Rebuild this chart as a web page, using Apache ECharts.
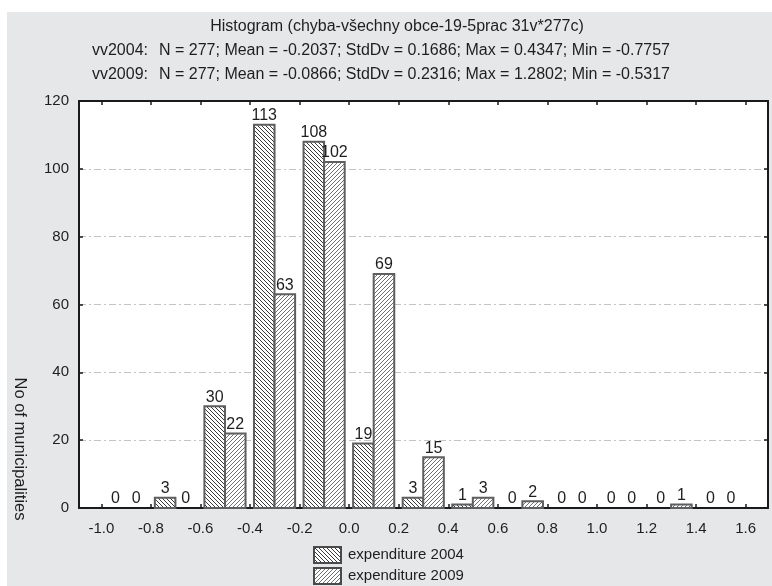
<!DOCTYPE html>
<html>
<head>
<meta charset="utf-8">
<script src="https://cdn.jsdelivr.net/npm/echarts@6/dist/echarts.min.js"></script>
<style>
  html, body { margin: 0; padding: 0; background: #ffffff; }
  #panel { position: absolute; left: 7px; top: 12px; width: 765px; height: 574px; background: #e6e7e9; }
  #chart { position: absolute; left: 0; top: 0; width: 772px; height: 586px; }
</style>
</head>
<body>
<div id="panel"></div>
<div id="chart"></div>
<script>
// Histogram bins (left edge of each 0.2-wide class)
const binStarts = [-1.0, -0.8, -0.6, -0.4, -0.2, 0.0, 0.2, 0.4, 0.6, 0.8, 1.0, 1.2, 1.4];
const binWidth = 0.2;
// Counts per class
const counts2004 = [0, 3, 30, 113, 108, 19, 3, 1, 0, 0, 0, 0, 0];
const counts2009 = [0, 0, 22, 63, 102, 69, 15, 3, 2, 0, 0, 1, 0];
const seriesNames = ['expenditure 2004', 'expenditure 2009'];
// Axis ticks
const xTicks = [-1.0, -0.8, -0.6, -0.4, -0.2, 0.0, 0.2, 0.4, 0.6, 0.8, 1.0, 1.2, 1.4, 1.6];
const yTicks = [0, 20, 40, 60, 80, 100, 120];
const titleLines = [
  'Histogram (chyba-všechny obce-19-5prac 31v*277c)',
  ['vv2004:', 'N = 277; Mean = -0.2037; StdDv = 0.1686; Max = 0.4347; Min = -0.7757'],
  ['vv2009:', 'N = 277; Mean = -0.0866; StdDv = 0.2316; Max = 1.2802; Min = -0.5317']
];

const FONT = 'Liberation Sans, Arial, sans-serif';
const TEXT = '#1e1e1e';

// Diagonal hatch tiles used as bar fills
function hatch(dir, size, color, lw) {
  const c = document.createElement('canvas');
  c.width = size; c.height = size;
  const ctx = c.getContext('2d');
  ctx.fillStyle = '#ffffff';
  ctx.fillRect(0, 0, size, size);
  ctx.strokeStyle = color;
  ctx.lineWidth = lw;
  ctx.beginPath();
  if (dir === 'back') {
    ctx.moveTo(0, 0); ctx.lineTo(size, size);
    ctx.moveTo(-1, size - 1); ctx.lineTo(1, size + 1);
    ctx.moveTo(size - 1, -1); ctx.lineTo(size + 1, 1);
  } else {
    ctx.moveTo(0, size); ctx.lineTo(size, 0);
    ctx.moveTo(-1, 1); ctx.lineTo(1, -1);
    ctx.moveTo(size - 1, size + 1); ctx.lineTo(size + 1, size - 1);
  }
  ctx.stroke();
  return { image: c, repeat: 'repeat' };
}
const fill2004 = hatch('back', 4, '#3a3a3a', 1);
const fill2009 = hatch('fwd', 4, '#707070', 1);
const fills = [fill2004, fill2009];

// Position of each bar inside its class, as a share of the class width
const barLayout = [
  { offset: 0.08, width: 0.415 },
  { offset: 0.495, width: 0.415 }
];

function makeRenderer(idx) {
  return function (params, api) {
    const x0 = api.value(0);
    const v = api.value(1);
    const lay = barLayout[idx];
    const a = x0 + lay.offset * binWidth;
    const b = a + lay.width * binWidth;
    const p1 = api.coord([a, v]);
    const p2 = api.coord([b, 0]);
    const children = [];
    if (v > 0) {
      children.push({
        type: 'rect',
        shape: { x: p1[0], y: p1[1], width: p2[0] - p1[0], height: p2[1] - p1[1] },
        style: { fill: fills[idx], stroke: '#5e5e5e', lineWidth: 2 }
      });
    }
    children.push({
      type: 'text',
      x: (p1[0] + p2[0]) / 2,
      y: p1[1] - 1,
      style: {
        text: String(v), font: '16px ' + FONT, fill: TEXT,
        align: 'center', verticalAlign: 'bottom'
      },
      z2: 10
    });
    return { type: 'group', children: children };
  };
}

const data2004 = binStarts.map((s, i) => [s, counts2004[i]]);
const data2009 = binStarts.map((s, i) => [s, counts2009[i]]);

const chart = echarts.init(document.getElementById('chart'), null, { renderer: 'canvas' });

const xMin = -1.09, xMax = 1.69;
const tickStyle = { show: true, inside: true, length: 4, lineStyle: { color: '#1a1a1a', width: 1.5 } };

function legendFor(idx, top) {
  return {
    left: 313, top: top, padding: 0,
    itemWidth: 27, itemHeight: 16,
    icon: 'rect',
    textStyle: { fontSize: 15, fontFamily: FONT, color: TEXT, padding: [0, 0, 0, 2] },
    data: [{
      name: seriesNames[idx],
      itemStyle: { color: fills[idx], borderColor: '#4a4a4a', borderWidth: 2 }
    }]
  };
}

const option = {
  backgroundColor: 'transparent',
  animation: false,
  grid: { left: 79, right: 4, top: 101, bottom: 78, show: true, backgroundColor: '#ffffff', borderWidth: 0 },
  xAxis: [
    {
      type: 'value', min: xMin, max: xMax, position: 'bottom',
      axisLine: { show: true, onZero: false, lineStyle: { color: '#1a1a1a', width: 2 } },
      axisTick: Object.assign({ customValues: xTicks }, tickStyle),
      axisLabel: { customValues: xTicks, margin: 13, fontSize: 15, fontFamily: FONT, color: TEXT,
        formatter: v => v.toFixed(1) },
      splitLine: { show: false }
    },
    {
      type: 'value', min: xMin, max: xMax, position: 'top',
      axisLine: { show: true, onZero: false, lineStyle: { color: '#1a1a1a', width: 2 } },
      axisTick: Object.assign({ customValues: xTicks }, tickStyle),
      axisLabel: { show: false },
      splitLine: { show: false }
    }
  ],
  yAxis: [
    {
      type: 'value', min: 0, max: 120, interval: 20, position: 'left',
      axisLine: { show: true, onZero: false, lineStyle: { color: '#1a1a1a', width: 2 } },
      axisTick: tickStyle,
      axisLabel: { margin: 10, fontSize: 15, fontFamily: FONT, color: TEXT },
      splitLine: { show: true, lineStyle: { color: '#c4c4c4', width: 1, type: [7, 3, 2, 3] } }
    },
    {
      type: 'value', min: 0, max: 120, interval: 20, position: 'right',
      axisLine: { show: true, onZero: false, lineStyle: { color: '#1a1a1a', width: 2 } },
      axisTick: tickStyle,
      axisLabel: { show: false },
      splitLine: { show: false }
    }
  ],
  legend: [legendFor(0, 546), legendFor(1, 567)],
  series: [
    {
      name: seriesNames[0], type: 'custom', xAxisIndex: 0, yAxisIndex: 0,
      encode: { x: 0, y: 1 }, data: data2004,
      itemStyle: { color: fill2004, borderColor: '#5e5e5e', borderWidth: 2 },
      renderItem: makeRenderer(0)
    },
    {
      name: seriesNames[1], type: 'custom', xAxisIndex: 0, yAxisIndex: 0,
      encode: { x: 0, y: 1 }, data: data2009,
      itemStyle: { color: fill2009, borderColor: '#5e5e5e', borderWidth: 2 },
      renderItem: makeRenderer(1)
    }
  ],
  graphic: [
    { type: 'text', x: 397, y: 19, style: { text: titleLines[0], font: '16px ' + FONT, fill: TEXT, align: 'center' } },
    { type: 'text', x: 148, y: 43, style: { text: titleLines[1][0], font: '16px ' + FONT, fill: TEXT, align: 'right' } },
    { type: 'text', x: 159, y: 43, style: { text: titleLines[1][1], font: '16px ' + FONT, fill: TEXT } },
    { type: 'text', x: 148, y: 67, style: { text: titleLines[2][0], font: '16px ' + FONT, fill: TEXT, align: 'right' } },
    { type: 'text', x: 159, y: 67, style: { text: titleLines[2][1], font: '16px ' + FONT, fill: TEXT } },
    {
      type: 'text', x: 20, y: 449, rotation: -Math.PI / 2,
      style: { text: 'No of municipalities', font: '16.5px ' + FONT, fill: TEXT, align: 'center', verticalAlign: 'middle' }
    }
  ]
};

chart.setOption(option);
</script>
</body>
</html>
